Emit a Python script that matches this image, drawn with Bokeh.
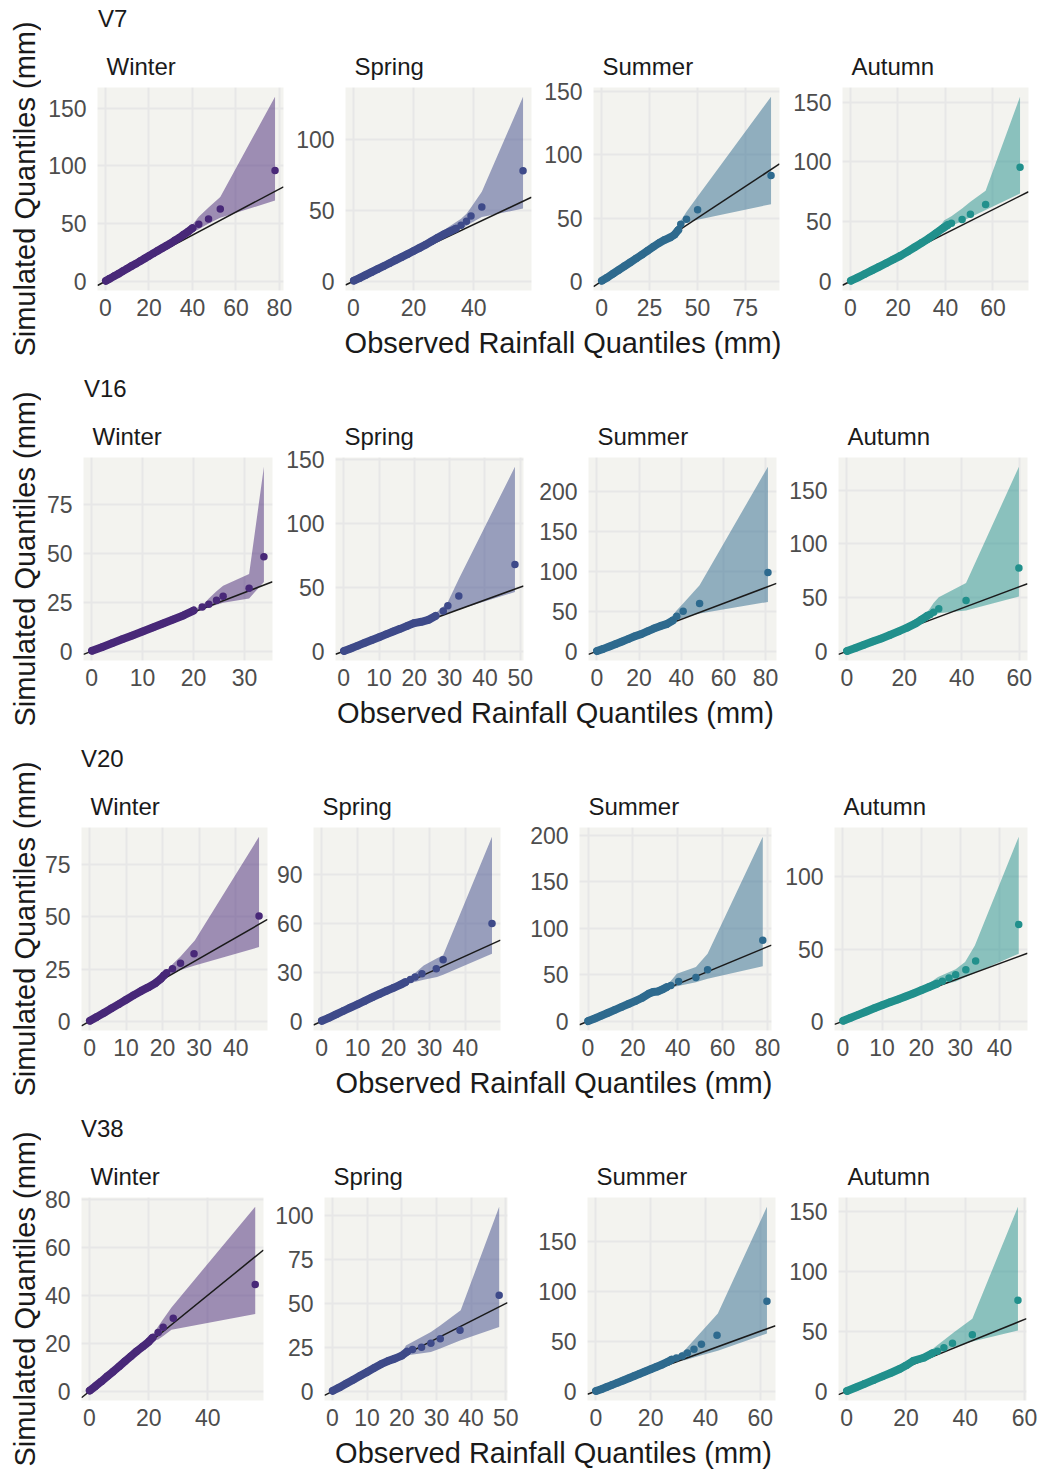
from math import pi
from bokeh.plotting import figure
from bokeh.models import Range1d, Title, FixedTicker, Label
from bokeh.layouts import row, column
from bokeh.embed import file_html
from bokeh.resources import INLINE
from bokeh.core.validation import silence
from bokeh.core.validation.warnings import MISSING_RENDERERS

silence(MISSING_RENDERERS, True)

# ---------------------------------------------------------------- labels
STATIONS = ["V7", "V16", "V20", "V38"]
SEASONS = ["Winter", "Spring", "Summer", "Autumn"]
SEASON_COLORS = ["#482878", "#3E4A89", "#2E6A8E", "#21908C"]
Y_TITLE = "Simulated Quantiles (mm)"
X_TITLE = "Observed Rainfall Quantiles (mm)"

# ---------------------------------------------------------------- data
# bulk = densely packed quantiles, tail = separated upper quantiles,
# band = simulation envelope (lo / hi) at observed quantiles
v7_winter_bulk_obs = [0.2, 2, 4, 6, 8, 10, 12, 14, 16, 18, 20, 22, 24, 26, 28, 30, 32, 34, 36, 38, 40]
v7_winter_bulk_sim = [0.5, 2.3, 4.5, 6.6, 8.8, 11, 13.2, 15.3, 17.5, 19.7, 22, 24.2, 26.4, 28.6, 30.8, 33, 35.5, 37.8, 40.5, 43, 46]
v7_winter_tail_obs = [42.9, 47.4, 52.8, 78]
v7_winter_tail_sim = [49.5, 53.9, 62.6, 96]
v7_winter_band_obs = [0.2, 20, 36, 40, 42.9, 47.4, 52.8, 78]
v7_winter_band_lo = [0, 20.5, 38.5, 42.5, 45, 50, 55, 70]
v7_winter_band_hi = [1, 23.5, 42, 49, 56, 64, 73, 160]
v7_winter_xticks = [0, 20, 40, 60, 80]
v7_winter_yticks = [0, 50, 100, 150]

v7_spring_bulk_obs = [0.2, 2, 4, 6, 8, 10, 12, 14, 16, 18, 20, 22, 24, 26, 28, 30, 32, 34]
v7_spring_bulk_sim = [0.5, 2.2, 4.3, 6.4, 8.5, 10.6, 12.7, 14.9, 17, 19.1, 21.3, 23.5, 25.8, 28.2, 30.6, 33, 35, 37]
v7_spring_tail_obs = [35.8, 37.6, 39.1, 42.7, 56.4]
v7_spring_tail_sim = [39.4, 42.2, 46, 52.4, 77.8]
v7_spring_band_obs = [0.2, 20, 30, 35.8, 37.6, 39.1, 42.7, 56.4]
v7_spring_band_lo = [0, 20.5, 31.5, 37, 39, 41, 45.3, 51.2]
v7_spring_band_hi = [1, 22.5, 36, 44, 47.6, 52, 63, 130]
v7_spring_xticks = [0, 20, 40]
v7_spring_yticks = [0, 50, 100]

v7_summer_bulk_obs = [0.2, 3, 6, 9, 12, 15, 18, 21, 24, 27, 30, 33, 36, 38, 40]
v7_summer_bulk_sim = [0.5, 3, 6, 9, 12, 15, 18, 21, 24.2, 27.3, 30.3, 32.8, 34.8, 36.8, 40.5]
v7_summer_tail_obs = [41.3, 44.3, 50.1, 88.4]
v7_summer_tail_sim = [45.1, 49.1, 56.5, 83.6]
v7_summer_band_obs = [0.2, 20, 36, 40, 41.3, 44.3, 50.1, 88.4]
v7_summer_band_lo = [0, 19.5, 33.5, 39, 43, 46.5, 48.6, 61]
v7_summer_band_hi = [1, 21.5, 36, 43, 47.8, 55, 67, 146]
v7_summer_xticks = [0, 25, 50, 75]
v7_summer_yticks = [0, 50, 100, 150]

v7_autumn_bulk_obs = [0.2, 3, 6, 9, 12, 15, 18, 21, 24, 27, 30, 33, 36, 39, 41]
v7_autumn_bulk_sim = [0.5, 3.1, 6.1, 9.1, 12.1, 15.1, 18.2, 21.3, 24.8, 28.5, 32.2, 36, 40.2, 44.5, 47.2]
v7_autumn_tail_obs = [42.5, 47, 50.5, 56.9, 71.4]
v7_autumn_tail_sim = [48.6, 51.7, 56.2, 64.3, 95.5]
v7_autumn_band_obs = [0.2, 20, 36, 39.5, 42.5, 47, 50.5, 56.9, 71.4]
v7_autumn_band_lo = [0, 19.5, 38.5, 42, 46.5, 50.3, 53.5, 59.6, 73.5]
v7_autumn_band_hi = [1, 22, 41.5, 51, 54.5, 61, 66.5, 75.8, 154.5]
v7_autumn_xticks = [0, 20, 40, 60]
v7_autumn_yticks = [0, 50, 100, 150]

v16_winter_bulk_obs = [0.1, 2, 4, 6, 8, 10, 12, 14, 16, 18, 20]
v16_winter_bulk_sim = [0.3, 2.1, 4.1, 6.1, 8.1, 10.1, 12.1, 14.2, 16.2, 18.3, 20.8]
v16_winter_tail_obs = [21.7, 23, 24.5, 25.8, 30.9, 33.8]
v16_winter_tail_sim = [22.6, 24, 26, 28.1, 32.2, 48.3]
v16_winter_band_obs = [0.1, 20, 21.7, 23, 24.5, 25.8, 30.9, 33.8]
v16_winter_band_lo = [0, 19.8, 21.1, 22.5, 23.8, 24.8, 26.9, 35.4]
v16_winter_band_hi = [0.8, 21.5, 23.3, 27, 30.7, 33.4, 39.4, 94.2]
v16_winter_xticks = [0, 10, 20, 30]
v16_winter_yticks = [0, 25, 50, 75]

v16_spring_bulk_obs = [0.1, 2, 4, 6, 8, 10, 12, 14, 16, 18, 20, 22, 24, 26]
v16_spring_bulk_sim = [0.3, 2.2, 4.4, 6.6, 8.8, 11, 13.2, 15.4, 17.5, 19.8, 22, 23, 24.5, 27.5]
v16_spring_tail_obs = [28.2, 29.5, 32.6, 48.5]
v16_spring_tail_sim = [31.5, 35.5, 43.1, 67.7]
v16_spring_band_obs = [0.1, 20, 24, 26.5, 28.2, 29.5, 32.6, 48.5]
v16_spring_band_lo = [0, 21, 23, 26.9, 28.5, 30, 32.5, 46.2]
v16_spring_band_hi = [0.8, 23, 25.5, 30.8, 35, 38.5, 56.4, 144]
v16_spring_xticks = [0, 10, 20, 30, 40, 50]
v16_spring_yticks = [0, 50, 100, 150]

v16_summer_bulk_obs = [0.1, 3, 6, 9, 12, 15, 18, 21, 24, 27, 30, 33, 36]
v16_summer_bulk_sim = [0.3, 3, 6, 9, 12.2, 15.5, 18.8, 21.5, 25, 28.5, 31.5, 34, 38.5]
v16_summer_tail_obs = [37.9, 40.9, 48.7, 81.1]
v16_summer_tail_sim = [43.9, 50.2, 59.8, 98.7]
v16_summer_band_obs = [0.1, 20, 33, 35.3, 37.9, 40.9, 48.7, 81.1]
v16_summer_band_lo = [0, 19.5, 32.5, 36, 38.9, 42, 47.3, 61.9]
v16_summer_band_hi = [0.8, 21.5, 36, 43.1, 51.3, 59.9, 82.8, 231.4]
v16_summer_xticks = [0, 20, 40, 60, 80]
v16_summer_yticks = [0, 50, 100, 150, 200]

v16_autumn_bulk_obs = [0.1, 3, 6, 9, 12, 15, 18, 21, 24, 26, 28]
v16_autumn_bulk_sim = [0.3, 3, 6, 9, 12, 15.2, 18.5, 22, 26, 29.5, 33]
v16_autumn_tail_obs = [29, 30.2, 32, 41.5, 59.9]
v16_autumn_tail_sim = [34.2, 36.4, 39.5, 47.3, 77.5]
v16_autumn_band_obs = [0.1, 20, 26, 27.9, 29, 30.2, 32, 41.5, 59.9]
v16_autumn_band_lo = [0, 19.5, 27.5, 30.5, 32, 33.5, 35.5, 38, 51]
v16_autumn_band_hi = [0.8, 21.5, 31, 36.4, 40, 45, 50.4, 63.5, 171.8]
v16_autumn_xticks = [0, 20, 40, 60]
v16_autumn_yticks = [0, 50, 100, 150]

v20_winter_bulk_obs = [0.1, 2, 4, 6, 8, 10, 12, 14, 16, 18, 19.5, 20.4]
v20_winter_bulk_sim = [0.3, 2.1, 4.1, 6.2, 8.2, 10.3, 12.4, 14.4, 16.2, 18.2, 20.3, 22]
v20_winter_tail_obs = [21.1, 22.7, 24.9, 28.6, 46.4]
v20_winter_tail_sim = [23.2, 25.1, 27.8, 32.3, 50.4]
v20_winter_band_obs = [0.1, 18, 20.6, 22.7, 24.9, 28.8, 46.4]
v20_winter_band_lo = [0, 17.5, 21.1, 22.8, 24.5, 26.7, 35.5]
v20_winter_band_hi = [0.8, 19, 23.5, 27.3, 31, 38.7, 88.3]
v20_winter_xticks = [0, 10, 20, 30, 40]
v20_winter_yticks = [0, 25, 50, 75]

v20_spring_bulk_obs = [0.1, 2, 4, 6, 8, 10, 12, 14, 16, 18, 20, 22, 23.3]
v20_spring_bulk_sim = [0.3, 2.1, 4.2, 6.3, 8.4, 10.4, 12.5, 14.6, 16.6, 18.6, 20.5, 22.5, 24]
v20_spring_tail_obs = [24.7, 26, 27.9, 31.9, 33.8, 47.4]
v20_spring_tail_sim = [25.6, 27.1, 29.1, 32.2, 37.7, 59.9]
v20_spring_band_obs = [0.1, 20, 24.7, 28.4, 32.1, 33.8, 47.4]
v20_spring_band_lo = [0, 19.5, 23.5, 25.5, 27.1, 28.5, 41.4]
v20_spring_band_hi = [0.8, 21.5, 27.1, 34.2, 38.7, 40.5, 113.2]
v20_spring_xticks = [0, 10, 20, 30, 40]
v20_spring_yticks = [0, 30, 60, 90]

v20_summer_bulk_obs = [0.1, 3, 6, 9, 12, 15, 18, 21, 24, 27, 29, 31, 33, 35]
v20_summer_bulk_sim = [0.3, 3, 6.1, 9.2, 12.3, 15.4, 18.5, 21.6, 25, 29.5, 31.5, 32, 34, 36.5]
v20_summer_tail_obs = [36.9, 40.4, 48.1, 53.3, 77.9]
v20_summer_tail_sim = [38.4, 42.7, 47, 55.3, 86.9]
v20_summer_band_obs = [0.1, 20, 33, 35.2, 39.6, 48.1, 53.3, 77.9]
v20_summer_band_lo = [0, 19.5, 32, 34.5, 37.7, 42, 45.6, 59.2]
v20_summer_band_hi = [0.8, 21.5, 35, 38.4, 51, 58.2, 72.5, 198.2]
v20_summer_xticks = [0, 20, 40, 60, 80]
v20_summer_yticks = [0, 50, 100, 150, 200]

v20_autumn_bulk_obs = [0.1, 2, 4, 6, 8, 10, 12, 14, 16, 18, 20, 22, 24]
v20_autumn_bulk_sim = [0.4, 2.4, 4.6, 6.8, 9, 11.1, 13.1, 15.1, 17.2, 19.3, 21.5, 23.7, 26]
v20_autumn_tail_obs = [25.4, 27.1, 28.8, 31.4, 33.9, 44.9]
v20_autumn_tail_sim = [27.8, 29.9, 32.2, 35.6, 41.7, 67.1]
v20_autumn_band_obs = [0.1, 20, 24.3, 28.8, 31.2, 33.7, 44.9]
v20_autumn_band_lo = [0, 19.8, 24.5, 27.5, 30.5, 33.5, 46.8]
v20_autumn_band_hi = [0.8, 22.5, 30.6, 36, 41, 52.5, 127.8]
v20_autumn_xticks = [0, 10, 20, 30, 40]
v20_autumn_yticks = [0, 50, 100]

v38_winter_bulk_obs = [0.1, 2, 4, 6, 8, 10, 12, 14, 16, 18, 20, 21.3]
v38_winter_bulk_sim = [0.3, 2.1, 4.1, 6.2, 8.2, 10.3, 12.5, 14.6, 16.7, 18.6, 20.6, 22.3]
v38_winter_tail_obs = [23.2, 24.9, 28.3, 56]
v38_winter_tail_sim = [24.5, 26.6, 30.4, 44.4]
v38_winter_band_obs = [0.1, 20, 21.5, 23.2, 24.9, 27.7, 56]
v38_winter_band_lo = [0, 19.8, 21, 21.5, 23, 25.6, 32.2]
v38_winter_band_hi = [0.8, 21.5, 23.8, 27, 30, 34.9, 76.8]
v38_winter_xticks = [0, 20, 40]
v38_winter_yticks = [0, 20, 40, 60, 80]

v38_spring_bulk_obs = [0.1, 2, 4, 6, 8, 10, 12, 14, 16, 18, 20, 21.5]
v38_spring_bulk_sim = [0.3, 2.2, 4.4, 6.6, 8.8, 11, 13.2, 15.4, 17.2, 18.6, 20.3, 22.5]
v38_spring_tail_obs = [23.1, 25.7, 28.4, 31.1, 36.8, 48.1]
v38_spring_tail_sim = [23.8, 25.1, 27.4, 29.9, 34.7, 54.7]
v38_spring_band_obs = [0.1, 20, 21.2, 28.4, 31.1, 37, 48.1]
v38_spring_band_lo = [0, 19.5, 20.4, 22.3, 24.4, 29, 36.6]
v38_spring_band_hi = [0.8, 21.5, 26.1, 33.7, 37.5, 46.1, 105.1]
v38_spring_xticks = [0, 10, 20, 30, 40, 50]
v38_spring_yticks = [0, 25, 50, 75, 100]

v38_summer_bulk_obs = [0.1, 2, 4, 6, 8, 10, 12, 14, 16, 18, 20, 22, 24, 26, 27.6]
v38_summer_bulk_sim = [0.3, 2.1, 4.2, 6.4, 8.6, 10.8, 13, 15.3, 17.5, 19.8, 22, 24.3, 26.5, 29, 31.5]
v38_summer_tail_obs = [29.4, 31.5, 33.4, 35.8, 38.5, 44.2, 62.4]
v38_summer_tail_sim = [33.3, 35.3, 38.3, 42, 47, 56, 90]
v38_summer_band_obs = [0.1, 20, 28.8, 32.4, 38.5, 44.5, 62.4]
v38_summer_band_lo = [0, 20.5, 30, 31, 36, 40.5, 57.7]
v38_summer_band_hi = [0.8, 23, 34.3, 41, 59.5, 77.7, 184.3]
v38_summer_xticks = [0, 20, 40, 60]
v38_summer_yticks = [0, 50, 100, 150]

v38_autumn_bulk_obs = [0.1, 3, 6, 9, 12, 15, 18, 20, 22.5, 26, 28.9]
v38_autumn_bulk_sim = [0.3, 3.1, 6.2, 9.3, 12.4, 15.5, 18.8, 21.5, 25.5, 28, 31.8]
v38_autumn_tail_obs = [30.6, 32.8, 35.7, 42.4, 57.8]
v38_autumn_tail_sim = [33.5, 36.3, 40.2, 47.2, 76]
v38_autumn_band_obs = [0.1, 20, 28.3, 36.2, 42.4, 57.8]
v38_autumn_band_lo = [0, 19.8, 29.5, 36.9, 41.6, 50.8]
v38_autumn_band_hi = [0.8, 22.5, 34.1, 49.4, 60.6, 154.2]
v38_autumn_xticks = [0, 20, 40, 60]
v38_autumn_yticks = [0, 50, 100, 150]

# ---------------------------------------------------------------- style / geometry
FONT = "Liberation Sans"
PANEL_BG = "#F3F3EF"
GRID_COLOR = "#E7E7E7"
TEXT_COLOR = "#1A1A1A"
TICK_COLOR = "#4D4D4D"
ROW_HEIGHTS = [370, 370, 370, 359]
YLAB_W = 41          # strip holding the rotated y title
HEAD_H = 40          # strip holding the station name
PANEL_FIG_H = 285    # panel figures (season title + frame + ticks)
FRAME_TOP = 87       # frame top, measured from row top
FRAME_H = 203
CELL_EDGES = [[YLAB_W, 292, 537, 786, 1044], [YLAB_W, 278, 536, 784, 1044],
              [YLAB_W, 272, 515, 782, 1044], [YLAB_W, 268, 525, 784, 1044]]
FRAME_LEFTS = [[97, 345, 593, 842], [83, 335, 587, 838], [80, 313, 579, 834], [80, 324, 587, 838]]
FRAME_RIGHTS = [[283, 531, 779, 1028], [272, 523, 776, 1027], [267, 500, 771, 1027], [263, 507, 775, 1026]]
LABEL_SHIFT = 10     # measured offset of alphabetic-baseline labels


def get(st, se, key):
    return globals()[f"{st.lower()}_{se.lower()}_{key}"]


def blank(width, height):
    f = figure(width=width, height=height, x_range=Range1d(0, 1), y_range=Range1d(0, 1),
               min_border_left=0, min_border_right=0, min_border_top=0, min_border_bottom=0,
               x_axis_location=None, y_axis_location=None, title=None,
               output_backend="svg", toolbar_location=None, outline_line_color=None,
               background_fill_color="white", border_fill_color="white")
    f.grid.grid_line_color = None
    return f


def make_panel(r, c):
    st, se = STATIONS[r], SEASONS[c]
    color = SEASON_COLORS[c]
    bo, bs = get(st, se, "bulk_obs"), get(st, se, "bulk_sim")
    to, ts = get(st, se, "tail_obs"), get(st, se, "tail_sim")
    ro, rl, rh = get(st, se, "band_obs"), get(st, se, "band_lo"), get(st, se, "band_hi")
    xs = bo + to + ro
    ys = bs + ts + rl + rh
    x0, x1 = min(xs), max(xs)
    y0, y1 = min(ys), max(ys)
    dx, dy = 0.05 * (x1 - x0), 0.05 * (y1 - y0)
    edges = CELL_EDGES[r]
    width = edges[c + 1] - edges[c]
    left = FRAME_LEFTS[r][c] - edges[c]
    right = edges[c + 1] - FRAME_RIGHTS[r][c]
    top = FRAME_TOP - HEAD_H
    bottom = PANEL_FIG_H - top - FRAME_H
    p = figure(width=width, height=PANEL_FIG_H,
               x_range=Range1d(x0 - dx, x1 + dx), y_range=Range1d(y0 - dy, y1 + dy),
               min_border_left=left, min_border_right=right,
               min_border_top=top, min_border_bottom=bottom,
               output_backend="svg", toolbar_location=None, title=None,
               background_fill_color=PANEL_BG, border_fill_color="white",
               outline_line_color=None)
    # envelope
    p.varea(x=ro, y1=rl, y2=rh, fill_color=color, fill_alpha=0.5)
    # 1:1 reference line across the panel
    xr = p.x_range
    p.line([xr.start, xr.end], [xr.start, xr.end], line_color="#1A1A1A", line_width=1.5)
    # quantile points
    p.line(bo, bs, line_color=color, line_width=8, line_cap="round", line_join="round")
    p.scatter(bo + to, bs + ts, size=7.5, fill_color=color, line_color=None)

    p.xaxis.ticker = FixedTicker(ticks=get(st, se, "xticks"))
    p.yaxis.ticker = FixedTicker(ticks=get(st, se, "yticks"))
    for ax in (p.xaxis[0], p.yaxis[0]):
        ax.axis_line_color = None
        ax.major_tick_line_color = None
        ax.minor_tick_line_color = None
        ax.major_tick_out = 0
        ax.major_tick_in = 0
        ax.major_label_text_font = FONT
        ax.major_label_text_font_size = "23px"
        ax.major_label_text_color = TICK_COLOR
    p.xaxis.major_label_standoff = 8
    p.yaxis.major_label_standoff = 11
    p.grid.grid_line_color = GRID_COLOR
    p.grid.grid_line_width = 2
    p.add_layout(Title(text=se, align="left", offset=9, standoff=15,
                       text_font=FONT, text_font_size="24px", text_font_style="normal",
                       text_color=TEXT_COLOR), "above")
    return p


def make_ylabel(r):
    h = ROW_HEIGHTS[r]
    f = blank(YLAB_W, h)
    f.add_layout(Label(x=34 - LABEL_SHIFT, y=h - (FRAME_TOP + FRAME_H / 2),
                       x_units="screen", y_units="screen", angle=pi / 2,
                       text=Y_TITLE, text_align="center", text_baseline="alphabetic",
                       text_font=FONT, text_font_size="29px", text_color=TEXT_COLOR))
    return f


def make_header(r):
    w = 1044 - YLAB_W
    f = blank(w, HEAD_H)
    f.add_layout(Label(x=FRAME_LEFTS[r][0] - YLAB_W + 0.5, y=HEAD_H - 28 + LABEL_SHIFT,
                       x_units="screen", y_units="screen",
                       text=STATIONS[r], text_align="left", text_baseline="alphabetic",
                       text_font=FONT, text_font_size="24px", text_color=TEXT_COLOR))
    return f


def make_strip(r):
    w = 1044 - YLAB_W
    h = ROW_HEIGHTS[r] - HEAD_H - PANEL_FIG_H
    f = blank(w, h)
    center = (FRAME_LEFTS[r][0] + FRAME_RIGHTS[r][3]) / 2 - YLAB_W
    f.add_layout(Label(x=center, y=h - 27 + LABEL_SHIFT, x_units="screen", y_units="screen",
                       text=X_TITLE, text_align="center", text_baseline="alphabetic",
                       text_font=FONT, text_font_size="29px", text_color=TEXT_COLOR))
    return f


rows = []
for r in range(4):
    panels = [make_panel(r, c) for c in range(4)]
    rows.append(row(make_ylabel(r),
                    column(make_header(r), row(*panels), make_strip(r))))

page = column(*rows)
open("out.html", "w").write(file_html(page, INLINE, title="QQ plots"))
